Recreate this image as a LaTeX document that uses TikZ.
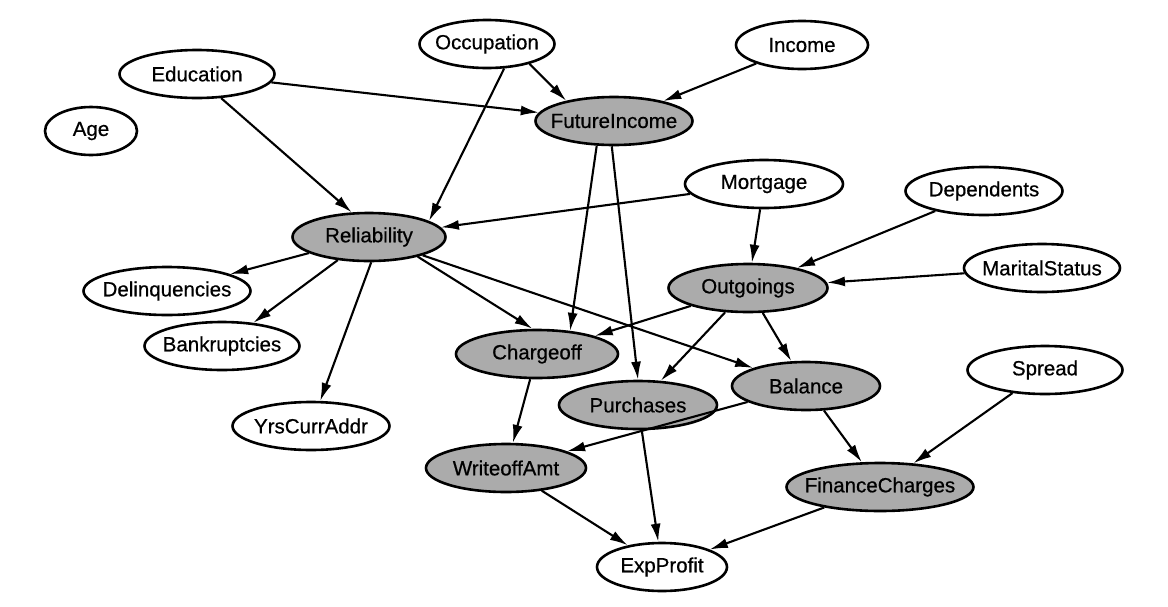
\documentclass[tikz,border=0pt]{standalone}
\usepackage{fontspec}
\newfontfamily\varfont{Liberation Sans}[BoldFont={Liberation Sans},BoldFeatures={FakeBold=0.6}]
\usetikzlibrary{arrows.meta,shapes.geometric}
\definecolor{latentgray}{HTML}{ABABAB}
\newcommand{\vn}[1]{\makebox[0pt]{#1}}
\tikzset{
 var/.style={ellipse,draw,line width=2.6pt,minimum width=155pt,minimum height=48pt,
  inner sep=0pt,font=\varfont\bfseries\fontsize{20.5}{24}\selectfont},
 latent/.style={var,fill=latentgray},
 link/.style={line width=2.1pt,-{Latex[length=18pt,width=10pt]}}
}
\begin{document}
\begin{tikzpicture}[x=1pt,y=-1pt]
 \useasboundingbox (0,0) rectangle (1168,606);
 % observed inputs
 \node [var,minimum width=135pt] (occ) at (487,44) {\vn{Occupation}};
 \node [var,minimum width=132pt] (inc) at (802,45) {\vn{Income}};
 \node [var] (edu) at (197,74) {\vn{Education}};
 \node [var,minimum width=92pt] (age) at (91,131) {\vn{Age}};
 \node [var,minimum width=158pt] (mort) at (764,184) {\vn{Mortgage}};
 \node [var,minimum width=157pt] (dep) at (984,191) {\vn{Dependents}};
 \node [var,minimum width=156pt] (mar) at (1042,268) {\vn{MaritalStatus}};
 \node [var,minimum width=155pt] (spr) at (1045,370) {\vn{Spread}};
 % observed outputs
 \node [var,minimum width=167pt] (del) at (167,291) {\vn{Delinquencies}};
 \node [var] (bank) at (222,346) {\vn{Bankruptcies}};
 \node [var,minimum width=157pt] (yrs) at (311,426) {\vn{YrsCurrAddr}};
 \node [var,minimum width=130pt] (prof) at (662,567) {\vn{ExpProfit}};
 % hidden
 \node [latent,minimum width=157pt] (fut) at (614,121) {\vn{FutureIncome}};
 \node [latent,minimum width=153pt] (rel) at (369,237) {\vn{Reliability}};
 \node [latent,minimum width=159pt] (out) at (748,288) {\vn{Outgoings}};
 \node [latent,minimum width=162pt] (chg) at (537,354) {\vn{Chargeoff}};
 \node [latent,minimum width=148pt] (bal) at (806,386) {\vn{Balance}};
 \node [latent,minimum width=158pt] (pur) at (638,405) {\vn{Purchases}};
 \node [latent,minimum width=160pt] (wo) at (506,468) {\vn{WriteoffAmt}};
 \node [latent,minimum width=187pt] (fin) at (880,487) {\vn{FinanceCharges}};
 % links
 \draw [link] (edu) -- (fut);
 \draw [link] (edu.-45) -- (rel.125);
 \draw [link] (occ.-25) -- (fut.157);
 \draw [link] (occ.-55) -- (rel.15);
 \draw [link] (inc) -- (fut);
 \draw [link] (mort) -- (rel);
 \draw [link] (mort) -- (out);
 \draw [link] (dep) -- (out);
 \draw [link] (mar) -- (out);
 \draw [link] (fut.-125) -- (chg.35);
 \draw [link] (fut.-95) -- (pur.90);
 \draw [link] (rel) -- (del);
 \draw [link] (rel) -- (bank);
 \draw [link] (rel.-85) -- (yrs);
 \draw [link] (rel.-22) -- (chg.100);
 \draw [link] (rel) -- (bal);
 \draw [link] (out) -- (chg);
 \draw [link] (out) -- (pur);
 \draw [link] (out) -- (bal);
 \draw [link] (chg) -- (wo);
 \draw [link] (bal) -- (wo);
 \draw [link] (bal) -- (fin);
 \draw [link] (spr) -- (fin);
 \draw [link] (pur) -- (prof);
 \draw [link] (wo) -- (prof);
 \draw [link] (fin) -- (prof);
\end{tikzpicture}
\end{document}
